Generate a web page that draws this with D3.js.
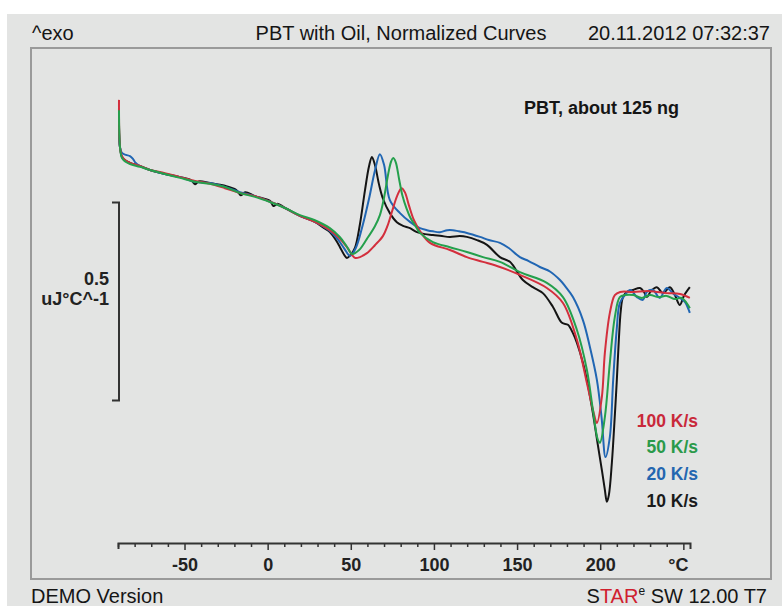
<!DOCTYPE html>
<html>
<head>
<meta charset="utf-8">
<script src="https://cdn.jsdelivr.net/npm/d3@7"></script>
<style>
  body { margin: 0; background: #fff; }
  svg text { font-family: "Liberation Sans", Arial, sans-serif; }
</style>
</head>
<body>
<svg id="chart" width="782" height="606"></svg>
<script>
// heating rates (legend, top to bottom)
const rates = ["100 K/s", "50 K/s", "20 K/s", "10 K/s"];
const rateColors = ["#d32f3d", "#24a04c", "#2166b3", "#141414"];
const legendColors = ["#c9283a", "#2a9a4a", "#2466b0", "#1a1a1a"];

// x axis ticks (°C)
const axisTicks = d3.range(-90, 251, 10);
const axisLabels = [-50, 0, 50, 100, 150, 200];

// normalized heat flow curves, [temperature °C, uJ/°C (arbitrary offset)]
const curve100 = [
  [-89.4, 1.119], [-88.8, 1.0], [-87.6, 0.977], [-85.2, 0.965], [-82.8, 0.960], [-76.8, 0.952],
  [-70.8, 0.942], [-61.8, 0.934], [-52.7, 0.924], [-43.7, 0.914], [-34.7, 0.907], [-25.7, 0.896],
  [-16.7, 0.884], [-7.6, 0.876], [1.4, 0.862], [10.4, 0.846], [19.4, 0.826], [28.4, 0.811],
  [37.4, 0.790], [43.5, 0.768], [48, 0.745], [52.5, 0.720], [55.5, 0.722], [59.7, 0.732],
  [64.5, 0.752], [69.3, 0.775], [72, 0.800], [75, 0.840], [78, 0.878], [80.5, 0.896],
  [82.5, 0.886], [85, 0.852], [88, 0.815], [91.6, 0.788], [97.6, 0.758], [109.6, 0.740],
  [119.8, 0.722], [129.5, 0.710], [139.7, 0.697], [151.7, 0.677], [167.9, 0.644], [177.6, 0.606],
  [186.0, 0.513], [192.0, 0.404], [196, 0.330], [198.0, 0.303], [201.0, 0.369], [202.8, 0.480],
  [205.8, 0.581], [208.8, 0.626], [212, 0.634], [220, 0.634], [230, 0.636], [240, 0.631],
  [248, 0.629], [253.9, 0.619]
];
const curve50 = [
  [-89.4, 1.093], [-88.8, 1.0], [-87.6, 0.972], [-85.2, 0.962], [-82.8, 0.957], [-76.8, 0.950],
  [-70.8, 0.942], [-61.8, 0.932], [-52.7, 0.922], [-43.7, 0.912], [-34.7, 0.907], [-25.7, 0.899],
  [-16.7, 0.884], [-7.6, 0.874], [1.4, 0.861], [10.4, 0.846], [19.4, 0.828], [28.4, 0.815],
  [37.4, 0.795], [43.5, 0.772], [47.7, 0.748], [50.7, 0.730], [55, 0.740], [59.7, 0.768],
  [64.5, 0.800], [67.5, 0.828], [70, 0.872], [72.5, 0.932], [74.3, 0.964], [75.5, 0.972],
  [77, 0.962], [79, 0.920], [81, 0.878], [83.5, 0.845], [86, 0.820], [89, 0.800],
  [91.6, 0.783], [99.4, 0.760], [109.6, 0.747],
  [119.8, 0.735], [129.5, 0.722], [139.7, 0.710], [151.7, 0.684], [167.9, 0.657], [177.6, 0.621],
  [186.0, 0.538], [192.0, 0.437], [195.6, 0.336], [198.5, 0.262], [199.8, 0.253], [202.8, 0.318],
  [205.8, 0.455], [208.8, 0.571], [211.8, 0.621], [215, 0.626], [220, 0.626], [225, 0.619],
  [230, 0.626], [235, 0.621], [240, 0.624], [245, 0.616], [249, 0.619], [252, 0.606], [253.9, 0.593]
];
const curve20 = [
  [-89.4, 1.05], [-88.8, 0.999], [-87.6, 0.985], [-85.2, 0.980], [-82.8, 0.977], [-81, 0.970],
  [-79.8, 0.962], [-76.8, 0.952], [-70.8, 0.942], [-61.8, 0.932], [-52.7, 0.924], [-43.7, 0.912],
  [-34.7, 0.909], [-25.7, 0.899], [-16.7, 0.886], [-7.6, 0.876], [1.4, 0.862], [10.4, 0.846],
  [19.4, 0.826], [28.4, 0.811], [37.4, 0.788], [42, 0.768], [46, 0.744], [49.5, 0.725],
  [53, 0.745], [57, 0.800], [61, 0.870], [64.5, 0.940], [67.5, 0.982], [70, 0.955],
  [73.5, 0.866], [79.6, 0.833], [85.6, 0.811], [91.6, 0.795], [95.8, 0.790], [99.4, 0.787],
  [103.6, 0.785], [108, 0.790], [111.4, 0.790], [115, 0.787], [119.8, 0.783], [127.7, 0.773],
  [133, 0.765], [139.7, 0.758], [145, 0.745], [151.7, 0.722], [157, 0.712], [163.7, 0.697],
  [170, 0.685], [175.8, 0.664], [179, 0.648], [183.6, 0.621], [189.6, 0.563], [193.8, 0.495],
  [198, 0.412], [200.8, 0.318], [203.2, 0.217], [205.8, 0.268], [207.8, 0.412], [209.9, 0.538],
  [211.8, 0.606], [214.9, 0.626], [218, 0.639], [222.1, 0.621], [225.7, 0.614], [228, 0.634],
  [231.7, 0.639], [235.8, 0.619], [240, 0.644], [243.6, 0.631], [247.9, 0.619], [250.9, 0.609],
  [253.9, 0.581]
];
const curve10 = [
  [-89.4, 1.056], [-88.8, 0.999], [-87.6, 0.975], [-85.2, 0.965], [-82.8, 0.960], [-76.8, 0.952],
  [-70.8, 0.942], [-61.8, 0.932], [-52.7, 0.924], [-46, 0.916], [-43.7, 0.906], [-41.5, 0.913],
  [-34.7, 0.909], [-25.7, 0.902], [-19, 0.892], [-16, 0.878], [-13.5, 0.886], [-7.6, 0.876],
  [1.4, 0.864], [3.5, 0.851], [6, 0.857], [10.4, 0.846], [19.4, 0.826], [28.4, 0.811],
  [34, 0.795], [37.4, 0.785], [41, 0.765], [43.5, 0.747], [46, 0.728], [47.7, 0.720],
  [50, 0.728], [52.5, 0.745], [55.5, 0.805], [58.5, 0.890], [61, 0.952], [62.7, 0.975],
  [64.5, 0.955], [67, 0.905], [69.3, 0.870], [73.5, 0.833], [77.7, 0.810], [81.4, 0.801], [85.6, 0.795],
  [89.8, 0.785], [94.6, 0.780], [99.4, 0.778], [104.8, 0.775], [109.6, 0.773], [115.6, 0.775],
  [119.8, 0.773], [125.9, 0.765], [131.9, 0.753], [139.7, 0.722], [145.7, 0.710], [153.5, 0.664],
  [159.5, 0.646], [165.5, 0.631], [171.6, 0.596], [177.0, 0.556], [180.6, 0.551], [183.6, 0.530],
  [186.0, 0.505], [189.6, 0.455], [192.6, 0.399], [195.6, 0.328], [198.6, 0.247], [201.0, 0.184],
  [202.8, 0.134], [204.0, 0.104], [205.2, 0.121], [207.0, 0.202], [208.8, 0.323], [210, 0.412],
  [211.2, 0.513], [212.4, 0.588], [213.7, 0.621], [216.1, 0.634], [219.7, 0.639], [223.9, 0.644],
  [226.3, 0.634], [228.1, 0.621], [230.5, 0.636], [234.1, 0.646], [237.7, 0.631], [241.9, 0.646],
  [244.9, 0.626], [247.9, 0.601], [250.3, 0.624], [253.9, 0.646]
];

const svg = d3.select("#chart");

// page background and frame
svg.append("rect").attr("x", 7).attr("y", 14).attr("width", 775).attr("height", 592).attr("fill", "#e3e4e3");
svg.append("rect").attr("x", 31).attr("y", 48).attr("width", 740).attr("height", 531)
    .attr("fill", "none").attr("stroke", "#9a9a9a").attr("stroke-width", 2);

const xScale = d3.scaleLinear().domain([-90, 254]).range([118, 690]);
const yScale = d3.scaleLinear().domain([0, 1]).range([543, 147]);

// header / footer
const header = svg.append("g").attr("font-size", 20).attr("fill", "#151515");
header.append("text").attr("x", 32).attr("y", 40).text("^exo");
header.append("text").attr("x", 401).attr("y", 40).attr("text-anchor", "middle").text("PBT with Oil, Normalized Curves");
header.append("text").attr("x", 770).attr("y", 40).attr("text-anchor", "end").text("20.11.2012 07:32:37");

svg.append("text").attr("x", 31).attr("y", 603).attr("font-size", 20).attr("fill", "#151515").text("DEMO Version");
const star = svg.append("text").attr("x", 767).attr("y", 603).attr("font-size", 20)
    .attr("text-anchor", "end").attr("fill", "#151515");
star.append("tspan").text("S");
star.append("tspan").attr("fill", "#d0202e").text("TAR");
star.append("tspan").attr("font-size", 12).attr("dy", -8).text("e");
star.append("tspan").attr("dy", 8).text(" SW 12.00 T7");

// x axis
const xAxis = d3.axisBottom(xScale)
    .tickValues(axisTicks)
    .tickSize(4)
    .tickSizeOuter(6)
    .tickFormat(d => axisLabels.includes(d) ? d : "");

const gx = svg.append("g").attr("transform", "translate(0,543)").call(xAxis);
gx.select(".domain").attr("stroke", "#333").attr("stroke-width", 2);
gx.selectAll(".tick line").attr("stroke", "#333").attr("stroke-width", 1.5)
    .attr("y2", d => d % 50 === 0 ? 7 : 4);
gx.selectAll(".tick text").attr("y", 28).attr("dy", null)
    .attr("font-family", "Liberation Sans, Arial, sans-serif")
    .attr("font-size", 18).attr("font-weight", "bold").attr("fill", "#222");
svg.append("text").attr("x", xScale(247)).attr("y", 571).attr("text-anchor", "middle")
    .attr("font-size", 18).attr("font-weight", "bold").attr("fill", "#222").text("°C");

// y scale bar: 0.5 uJ/°C
const barLow = 0.36, barHigh = 0.86;
svg.append("path")
    .attr("d", `M112,${yScale(barHigh)}H119V${yScale(barLow)}H112`)
    .attr("fill", "none").attr("stroke", "#333").attr("stroke-width", 2);
svg.append("text").attr("x", 109).attr("y", 285).attr("text-anchor", "end")
    .attr("font-size", 18).attr("font-weight", "bold").attr("fill", "#222").text("0.5");
svg.append("text").attr("x", 109).attr("y", 305).attr("text-anchor", "end")
    .attr("font-size", 18).attr("font-weight", "bold").attr("fill", "#222").text("uJ°C^-1");

// curves
const line = d3.line()
    .x(d => xScale(d[0]))
    .y(d => yScale(d[1]))
    .curve(d3.curveCatmullRom.alpha(0.5));

const curves = [curve10, curve20, curve100, curve50];
const curveColors = [rateColors[3], rateColors[2], rateColors[0], rateColors[1]];
curves.forEach((c, i) => {
    svg.append("path")
        .datum(c)
        .attr("fill", "none")
        .attr("stroke", curveColors[i])
        .attr("stroke-width", 2)
        .attr("stroke-linejoin", "round")
        .attr("d", line);
});

// annotation + legend
svg.append("text").attr("x", 524).attr("y", 114).attr("font-size", 18).attr("font-weight", "bold")
    .attr("fill", "#151515").text("PBT, about 125 ng");

const legendY = [427, 453, 480, 507];
svg.selectAll(".legend")
    .data(rates)
    .join("text")
    .attr("class", "legend")
    .attr("x", 698)
    .attr("y", (d, i) => legendY[i])
    .attr("text-anchor", "end")
    .attr("font-size", 17.5)
    .attr("font-weight", "bold")
    .attr("fill", (d, i) => legendColors[i])
    .text(d => d);
</script>
</body>
</html>
